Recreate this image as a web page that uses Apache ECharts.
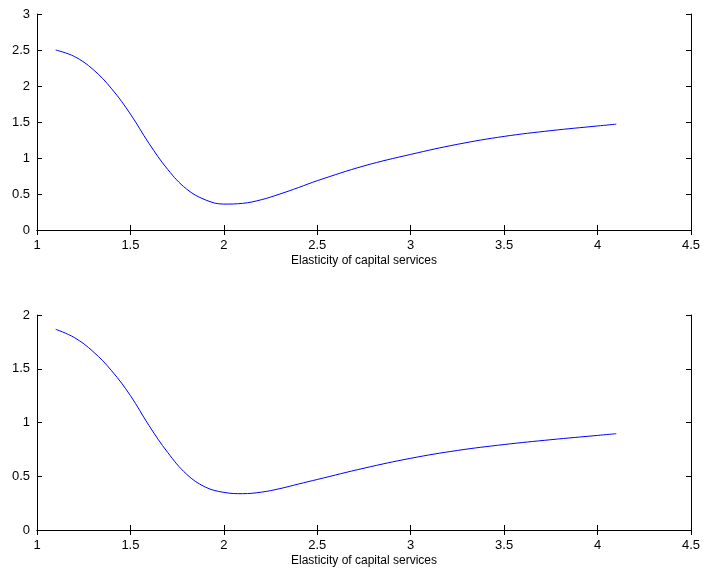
<!DOCTYPE html>
<html><head><meta charset="utf-8">
<script src="https://cdn.jsdelivr.net/npm/echarts@6/dist/echarts.min.js"></script>
<style>html,body{margin:0;padding:0;background:#fff}#c{width:705px;height:573px}</style>
</head><body><div id="c"></div>
<script>
const xVals = [1.1,1.2,1.3,1.4,1.5,1.6,1.7,1.8,1.9,2.0,2.1,2.2,2.3,2.4,2.5,2.75,3.0,3.25,3.5,3.75,4.0,4.1];
const topY  = [2.50,2.41,2.23,1.96,1.61,1.20,0.84,0.57,0.42,0.36,0.37,0.42,0.50,0.59,0.685,0.89,1.05,1.19,1.30,1.38,1.445,1.47];
const botY  = [1.867,1.79,1.66,1.48,1.25,0.97,0.72,0.52,0.40,0.35,0.338,0.352,0.385,0.428,0.47,0.575,0.667,0.74,0.795,0.84,0.88,0.896];
const xTicks = ['1','1.5','2','2.5','3','3.5','4','4.5'];
const xName = 'Elasticity of capital services';

const font = 'Liberation Sans, Arial, sans-serif';
const axLine = {show:true, lineStyle:{color:'#000', width:1}};
const tick = {show:true, inside:true, length:5, lineStyle:{color:'#000', width:1}};
function xAxes(gi){
  return [
    {type:'value', gridIndex:gi, min:1, max:4.5, interval:0.5, position:'bottom',
     name:xName, nameLocation:'middle', nameGap:25, nameTextStyle:{color:'#000', fontSize:12, fontFamily:font},
     axisLine:axLine, axisTick:tick,
     axisLabel:{color:'#000', fontSize:13, fontFamily:font, margin:9}, splitLine:{show:false}},
    {type:'value', gridIndex:gi, min:1, max:4.5, interval:0.5, position:'top',
     axisLine:axLine, axisTick:tick, axisLabel:{show:false}, splitLine:{show:false}}
  ];
}
function yAxes(gi, max){
  return [
    {type:'value', gridIndex:gi, min:0, max:max, interval:0.5, position:'left',
     axisLine:axLine, axisTick:tick,
     axisLabel:{color:'#000', fontSize:13, fontFamily:font, margin:7}, splitLine:{show:false}},
    {type:'value', gridIndex:gi, min:0, max:max, interval:0.5, position:'right',
     axisLine:axLine, axisTick:tick, axisLabel:{show:false}, splitLine:{show:false}}
  ];
}
const chart = echarts.init(document.getElementById('c'), null, {renderer:'canvas'});
chart.setOption({
  animation:false,
  backgroundColor:'#fff',
  grid:[
    {left:37, top:14, width:654, height:216},
    {left:37, top:315, width:654, height:215}
  ],
  xAxis:[...xAxes(0), ...xAxes(1)],
  yAxis:[...yAxes(0,3), ...yAxes(1,2)],
  series:[
    {type:'line', xAxisIndex:0, yAxisIndex:0, data:xVals.map((x,i)=>[x,topY[i]]),
     smooth:0.4, showSymbol:false, lineStyle:{color:'#0000ff', width:1}},
    {type:'line', xAxisIndex:2, yAxisIndex:2, data:xVals.map((x,i)=>[x,botY[i]]),
     smooth:0.4, showSymbol:false, lineStyle:{color:'#0000ff', width:1}}
  ]
});
</script></body></html>
